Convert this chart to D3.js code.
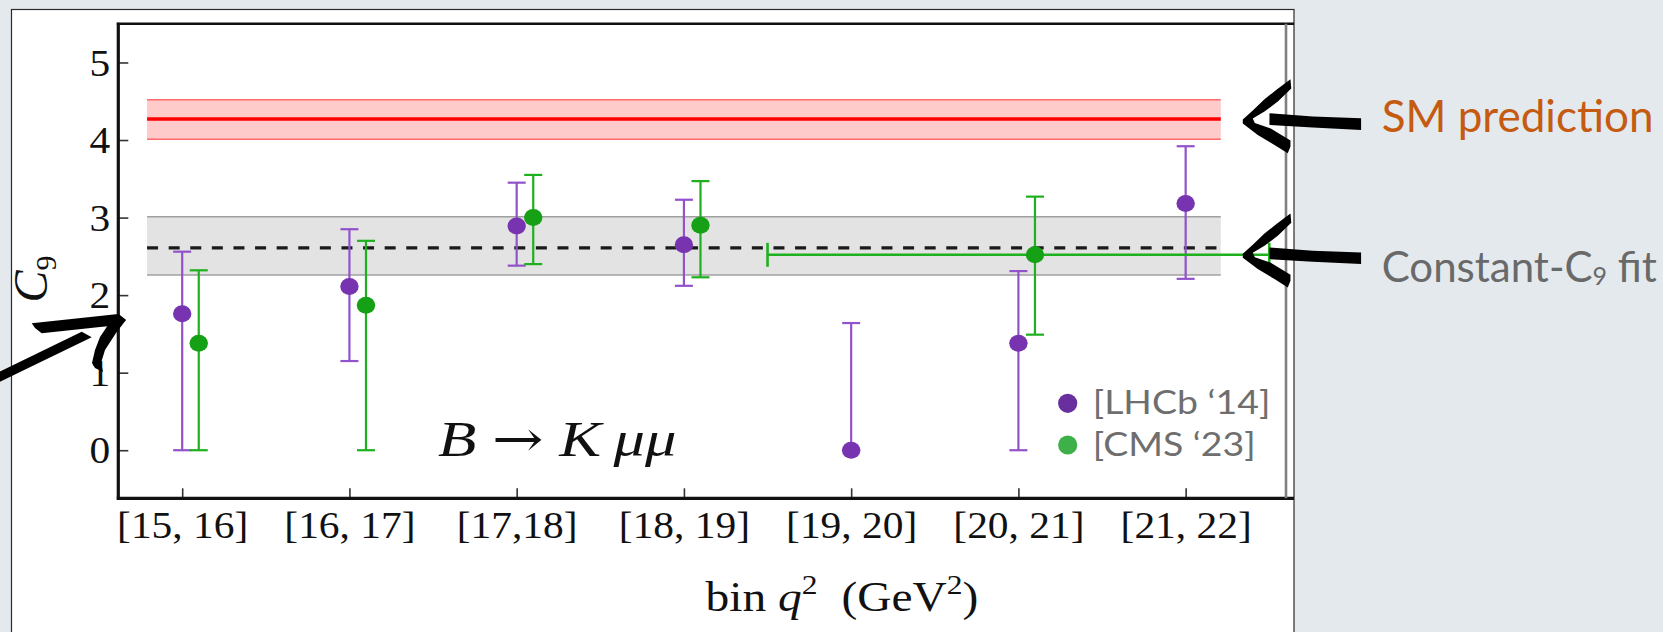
<!DOCTYPE html>
<html>
<head>
<meta charset="utf-8">
<script src="https://cdn.jsdelivr.net/npm/d3@7"></script>
<style>
  html, body { margin: 0; padding: 0; background: #e4e9ee; overflow: hidden; }
  svg { display: block; }
</style>
</head>
<body>
<svg id="chart" width="1663" height="632"></svg>
<script>
// ---- data -------------------------------------------------------------
const binLabels = ["[15, 16]", "[16, 17]", "[17,18]", "[18, 19]", "[19, 20]", "[20, 21]", "[21, 22]"];
const yTicks = [0, 1, 2, 3, 4, 5];

// LHCb '14: one point per q^2 bin (value, lower and upper end of error bar)
const lhcbValue = [1.76, 2.11, 2.89, 2.65, 0.00, 1.38, 3.18];
const lhcbLow   = [0.00, 1.15, 2.38, 2.12, 0.00, 0.00, 2.21];
const lhcbHigh  = [2.56, 2.85, 3.45, 3.23, 1.64, 2.31, 3.92];

// CMS '23: bin index, value, error bar; the last bin is a wide one
const cmsBin      = [0, 1, 2, 3, 5];
const cmsValue    = [1.38, 1.87, 3.00, 2.90, 2.52];
const cmsLow      = [0.00, 0.00, 2.40, 2.23, 1.49];
const cmsHigh     = [2.32, 2.70, 3.55, 3.47, 3.27];
const cmsSpanFrom = [null, null, null, null, 3.5];
const cmsSpanTo   = [null, null, null, null, 6.5];

// Standard Model prediction and constant-C9 fit (central value, band)
const smCentral  = 4.27;
const smBand     = [4.01, 4.52];
const fitCentral = 2.61;
const fitBand    = [2.26, 3.01];
const bandSpan   = [-0.21, 6.21];

const legendLabels = ["[LHCb \u201814]", "[CMS \u201823]"];

// ---- setup ------------------------------------------------------------
const W = 1663, H = 632;
const svg = d3.select("#chart");
const serif = "'Liberation Serif', 'Times New Roman', serif";
const sans = "Lato, 'Open Sans', sans-serif";
const stretch = 1.12;            // plot text is set slightly wide

const colPurple = "#7833b0", colPurpleBar = "#9152cc";
const colGreen = "#16a016", colGreenBar = "#1eb01e";

svg.append("rect").attr("width", W).attr("height", H).attr("fill", "#e4e9ee");

// white figure panel
const panel = { left: 11.5, top: 9.5, right: 1294 };
svg.append("rect")
  .attr("x", panel.left).attr("y", panel.top)
  .attr("width", panel.right - panel.left).attr("height", H)
  .attr("fill", "#ffffff").attr("stroke", "#2a2a2a").attr("stroke-width", 1.2);

const x = d3.scaleLinear().domain([-0.382, 6.6]).range([118.3, 1286]);
const y = d3.scaleLinear().domain([-0.62, 5.5]).range([498.3, 23.7]);
const cmsOffset = 0.099;   // CMS points sit just right of the bin centre

// ---- bands ------------------------------------------------------------
function band(lo, hi, fill, edge, edgeW) {
  const g = svg.append("g");
  g.append("rect")
    .attr("x", x(bandSpan[0])).attr("width", x(bandSpan[1]) - x(bandSpan[0]))
    .attr("y", y(hi)).attr("height", y(lo) - y(hi))
    .attr("fill", fill);
  g.selectAll("line.edge").data([lo, hi]).join("line")
    .attr("x1", x(bandSpan[0])).attr("x2", x(bandSpan[1]))
    .attr("y1", d => y(d)).attr("y2", d => y(d))
    .attr("stroke", edge).attr("stroke-width", edgeW);
  return g;
}

band(fitBand[0], fitBand[1], "#e3e3e3", "#a0a0a0", 1.5);
svg.append("line")
  .attr("x1", x(bandSpan[0])).attr("x2", x(bandSpan[1]))
  .attr("y1", y(fitCentral)).attr("y2", y(fitCentral))
  .attr("stroke", "#1a1a1a").attr("stroke-width", 3.2)
  .attr("stroke-dasharray", "11,10.6");

band(smBand[0], smBand[1], "#ffcaca", "#ff6a6a", 1.5);
svg.append("line")
  .attr("x1", x(bandSpan[0])).attr("x2", x(bandSpan[1]))
  .attr("y1", y(smCentral)).attr("y2", y(smCentral))
  .attr("stroke", "#ff0000").attr("stroke-width", 3.5);

// ---- error bars and points -------------------------------------------
const cap = 9;
function errorBars(g, rows, barColor) {
  g.selectAll("line.v").data(rows).join("line")
    .attr("x1", d => x(d.i)).attr("x2", d => x(d.i))
    .attr("y1", d => y(d.lo)).attr("y2", d => y(d.hi))
    .attr("stroke", barColor).attr("stroke-width", 2.2);
  g.selectAll("line.capHi").data(rows).join("line")
    .attr("x1", d => x(d.i) - cap).attr("x2", d => x(d.i) + cap)
    .attr("y1", d => y(d.hi)).attr("y2", d => y(d.hi))
    .attr("stroke", barColor).attr("stroke-width", 2.2);
  g.selectAll("line.capLo").data(rows).join("line")
    .attr("x1", d => x(d.i) - cap).attr("x2", d => x(d.i) + cap)
    .attr("y1", d => y(d.lo)).attr("y2", d => y(d.lo))
    .attr("stroke", barColor).attr("stroke-width", 2.2);
}

const lhcbRows = lhcbValue.map((v, i) => ({ i: i, v: v, lo: lhcbLow[i], hi: lhcbHigh[i] }));
const cmsRows = cmsValue.map((v, k) => ({
  i: cmsBin[k] + cmsOffset, v: v, lo: cmsLow[k], hi: cmsHigh[k],
  from: cmsSpanFrom[k], to: cmsSpanTo[k]
}));

const gL = svg.append("g");
const gC = svg.append("g");
errorBars(gL, lhcbRows, colPurpleBar);
errorBars(gC, cmsRows, colGreenBar);

// horizontal extent of the wide CMS bin
const wide = cmsRows.filter(d => d.from !== null);
gC.selectAll("line.h").data(wide).join("line")
  .attr("x1", d => x(d.from)).attr("x2", d => x(d.to))
  .attr("y1", d => y(d.v)).attr("y2", d => y(d.v))
  .attr("stroke", colGreenBar).attr("stroke-width", 2.6);
gC.selectAll("line.hcapL").data(wide).join("line")
  .attr("x1", d => x(d.from)).attr("x2", d => x(d.from))
  .attr("y1", d => y(d.v) - 12).attr("y2", d => y(d.v) + 12)
  .attr("stroke", colGreenBar).attr("stroke-width", 2.6);
gC.selectAll("line.hcapR").data(wide).join("line")
  .attr("x1", d => x(d.to)).attr("x2", d => x(d.to))
  .attr("y1", d => y(d.v) - 12).attr("y2", d => y(d.v) + 12)
  .attr("stroke", colGreenBar).attr("stroke-width", 2.6);

gL.selectAll("ellipse").data(lhcbRows).join("ellipse")
  .attr("cx", d => x(d.i)).attr("cy", d => y(d.v))
  .attr("rx", 9.2).attr("ry", 8.5).attr("fill", colPurple);
gC.selectAll("ellipse").data(cmsRows).join("ellipse")
  .attr("cx", d => x(d.i)).attr("cy", d => y(d.v))
  .attr("rx", 9.2).attr("ry", 8.5).attr("fill", colGreen);

// ---- axes -------------------------------------------------------------
const yAxis = d3.axisLeft(y).tickValues(yTicks).tickSize(-10).tickFormat(d3.format("d"));
const gy = svg.append("g").attr("transform", `translate(${x.range()[0]},0)`).call(yAxis);
gy.select(".domain").remove();
gy.selectAll(".tick line").attr("stroke", "#333").attr("stroke-width", 1.6);
gy.selectAll(".tick text")
  .attr("x", 0).attr("dy", "0.34em")
  .attr("transform", `translate(-8,0) scale(${stretch},1)`)
  .attr("text-anchor", "end")
  .attr("font-family", serif).attr("font-size", 37).attr("fill", "#111");

const xAxis = d3.axisBottom(x).tickValues(d3.range(binLabels.length))
  .tickFormat(i => binLabels[i]).tickSize(-10);
const gx = svg.append("g").attr("transform", `translate(0,${y.range()[0]})`).call(xAxis);
gx.select(".domain").remove();
gx.selectAll(".tick line").attr("stroke", "#333").attr("stroke-width", 1.6);
gx.selectAll(".tick text")
  .attr("y", 0).attr("dy", 0)
  .attr("transform", `translate(0,40) scale(${stretch},1)`)
  .attr("text-anchor", "middle")
  .attr("font-family", serif).attr("font-size", 37).attr("fill", "#111");

// frame
const [yBot, yTop] = y.range();
const xLeft = x.range()[0], xRight = x.range()[1];
svg.append("line").attr("x1", xLeft).attr("x2", xLeft).attr("y1", yTop - 1).attr("y2", yBot + 1.5)
  .attr("stroke", "#111").attr("stroke-width", 3.2);
svg.append("line").attr("x1", xLeft - 1.5).attr("x2", panel.right).attr("y1", yBot).attr("y2", yBot)
  .attr("stroke", "#111").attr("stroke-width", 3.2);
svg.append("line").attr("x1", xLeft - 1.5).attr("x2", panel.right).attr("y1", yTop).attr("y2", yTop)
  .attr("stroke", "#111").attr("stroke-width", 2.4);
svg.append("line").attr("x1", xRight).attr("x2", xRight).attr("y1", yTop).attr("y2", yBot)
  .attr("stroke", "#808080").attr("stroke-width", 2.6);

// axis titles
const yTitle = svg.append("text")
  .attr("transform", `translate(47,279) rotate(-90)`)
  .attr("text-anchor", "middle")
  .attr("font-family", serif).attr("font-size", 48).attr("fill", "#111");
yTitle.append("tspan").attr("font-style", "italic").text("C");
yTitle.append("tspan").attr("font-size", 30).attr("dy", 9).text("9");

const xTitle = svg.append("text")
  .attr("transform", `translate(842,611) scale(1.13,1)`)
  .attr("text-anchor", "middle")
  .attr("font-family", serif).attr("font-size", 42).attr("fill", "#111");
xTitle.append("tspan").text("bin ");
xTitle.append("tspan").attr("font-style", "italic").text("q");
xTitle.append("tspan").attr("font-size", 28).attr("dy", -17).text("2");
xTitle.append("tspan").attr("dy", 17).text("\u2002(GeV");
xTitle.append("tspan").attr("font-size", 28).attr("dy", -17).text("2");
xTitle.append("tspan").attr("dy", 17).text(")");

// process label
const proc = svg.append("text")
  .attr("transform", `translate(438,456) scale(1.23,1)`)
  .attr("font-family", serif).attr("font-size", 51).attr("fill", "#111");
proc.append("tspan").attr("font-style", "italic").text("B");
proc.append("tspan").text("\u2005");
proc.append("tspan").attr("font-family", "'DejaVu Serif', serif").attr("font-size", 50).text("\u2192");
proc.append("tspan").text("\u2005");
proc.append("tspan").attr("font-style", "italic").text("K\u2009\u03bc\u03bc");

// ---- legend -----------------------------------------------------------
const legColors = ["#6a2f9e", "#3db04a"];
const legY = [403.3, 445];
const gLeg = svg.append("g");
legendLabels.forEach((lab, k) => {
  gLeg.append("circle").attr("cx", 1067.7).attr("cy", legY[k]).attr("r", 9.6).attr("fill", legColors[k]);
  gLeg.append("text")
    .attr("transform", `translate(1092.7,${legY[k] + 11}) scale(1.17,1)`)
    .attr("font-family", sans).attr("font-size", 32).attr("fill", "#6e6e6e")
    .text(lab);
});

// ---- annotations ------------------------------------------------------
const closed = d3.line().curve(d3.curveLinearClosed);
// bold hand-drawn "<" head and its tail, relative to the tip
const chevron = [[0,-2],[10,-11],[21.7,-22.3],[34,-32],[47.7,-42.3],[48.5,-33],[35,-20],[21.7,-10],[10,-3],
                 [12,1.5],[28,7],[47.7,19],[47.7,25],[45,31.7],[31.7,23.3],[15,13.3],[0,2]];
const shaft = [[26.7,-8.3],[70,-5],[118.3,-3.3],[118.3,8.3],[70,6],[26.7,3.3]];
function pointer(tipX, tipY) {
  const g = svg.append("g").attr("transform", `translate(${tipX},${tipY})`);
  g.append("path").attr("d", closed(chevron)).attr("fill", "#000");
  g.append("path").attr("d", closed(shaft)).attr("fill", "#000");
}
const tipX = x(bandSpan[1]) + 22;
pointer(tipX, y(smCentral) + 2.5);
pointer(tipX, y(cmsValue[4]) + 1);

svg.append("text").attr("x", 1381.7).attr("y", 131.5)
  .attr("font-family", sans).attr("font-size", 44).attr("fill", "#c55a11")
  .text("SM prediction");
const fitLab = svg.append("text").attr("x", 1381.7).attr("y", 281.7)
  .attr("font-family", sans).attr("font-size", 42).attr("fill", "#696969");
fitLab.append("tspan").text("Constant-C");
fitLab.append("tspan").attr("font-size", 25).attr("dy", 3).text("9");
fitLab.append("tspan").attr("dy", -3).text(" fit");

// arrow pointing at the y axis from the left
const headBar = [[31.7,323.3],[118.3,314],[126,320],[116,325.5],[100,327],[41.7,333.3],[35,328]];
const headStem = [[118.3,314],[126,320],[116,333],[105,350],[101,363],[103,372],[95,368],[92,363],[95,350],[100,337],[108,325]];
const leftShaft = [[-2,372.5],[81.7,331.7],[91.7,337.3],[-2,382.7]];
[headBar, headStem, leftShaft].forEach(p =>
  svg.append("path").attr("d", closed(p)).attr("fill", "#000"));
</script>
</body>
</html>
